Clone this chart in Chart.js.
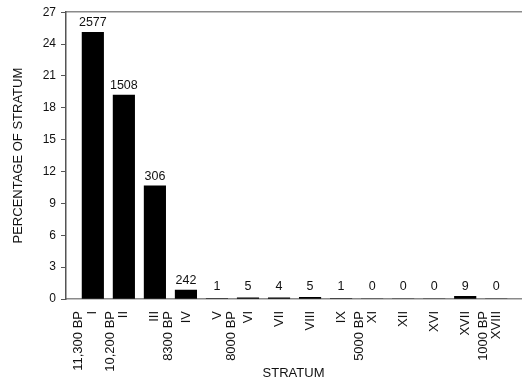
<!DOCTYPE html>
<html>
<head>
<meta charset="utf-8">
<script src="https://cdn.jsdelivr.net/npm/chart.js@4.4.1/dist/chart.umd.min.js"></script>
<style>
  html, body { margin: 0; padding: 0; background: #fff; }
  #wrap { width: 524px; height: 381px; }
</style>
</head>
<body>
<div id="wrap"><canvas id="chart"></canvas></div>
<script>
  // strata, percentage of stratum, and the counts printed above the bars
  var strata = ["I", "II", "III", "IV", "V", "VI", "VII", "VIII", "IX", "XI", "XII", "XVI", "XVII", "XVIII"];
  var percents = [25.1, 19.2, 10.65, 0.85, 0.05, 0.1, 0.1, 0.15, 0.05, 0, 0, 0, 0.25, 0];
  var counts = [2577, 1508, 306, 242, 1, 5, 4, 5, 1, 0, 0, 0, 9, 0];
  // radiocarbon dates, placed between strata (position on the stratum axis)
  var dates = ["11,300 BP", "10,200 BP", "8300 BP", "8000 BP", "5000 BP", "1000 BP"];
  var datePos = [-0.48, 0.58, 2.45, 4.48, 8.6, 12.6];
  var yTicks = [0, 3, 6, 9, 12, 15, 18, 21, 24, 27];

  var FONT = "'Liberation Sans', Arial, Helvetica, sans-serif";

  var points = [];
  for (var i = 0; i < strata.length; i++) {
    points.push({x: i, y: percents[i]});
  }

  // every label on the bottom axis: strata at integer positions, dates in between
  var xLabels = {};
  for (var i = 0; i < strata.length; i++) xLabels[i] = strata[i];
  for (var j = 0; j < dates.length; j++) xLabels[datePos[j]] = dates[j];

  var countLabels = {
    id: "countLabels",
    afterDatasetsDraw: function(chart) {
      var ctx = chart.ctx;
      var bars = chart.getDatasetMeta(0).data;
      ctx.save();
      ctx.font = "12.5px " + FONT;
      ctx.fillStyle = "#111";
      ctx.textAlign = "center";
      ctx.textBaseline = "alphabetic";
      for (var i = 0; i < bars.length; i++) {
        var y = Math.min(bars[i].y, 296) - 6;
        ctx.fillText(String(counts[i]), bars[i].x, y);
      }
      ctx.restore();
    }
  };

  new Chart(document.getElementById("chart"), {
    type: "bar",
    data: {
      datasets: [{
        data: points,
        backgroundColor: "#000",
        borderWidth: 0,
        barThickness: 21.5
      }]
    },
    options: {
      responsive: true,
      maintainAspectRatio: false,
      animation: false,
      layout: { padding: { top: 9, right: 0, left: 0, bottom: 0 } },
      plugins: { legend: { display: false }, tooltip: { enabled: false } },
      scales: {
        x: {
          type: "linear",
          position: "bottom",
          min: -0.865,
          max: 13.8,
          offset: false,
          afterBuildTicks: function(scale) {
            var vals = Object.keys(xLabels).map(Number).sort(function(a, b) { return a - b; });
            scale.ticks = vals.map(function(v) { return {value: v}; });
          },
          afterFit: function(scale) { scale.height = 82; },
          ticks: {
            autoSkip: false,
            minRotation: 90,
            maxRotation: 90,
            padding: 12,
            color: "#111",
            font: { family: FONT, size: 13 },
            callback: function(value) { return xLabels[value]; }
          },
          grid: { display: false, drawTicks: false },
          border: { display: true, color: "#8a8a8a", width: 1.5 },
          title: {
            display: true,
            text: "STRATUM",
            color: "#111",
            font: { family: FONT, size: 13 },
            padding: { top: 0, bottom: 0 }
          }
        },
        xTop: {
          type: "linear",
          position: "top",
          min: -0.865,
          max: 13.8,
          ticks: { display: false },
          grid: { display: false, drawTicks: false },
          border: { display: true, color: "#8a8a8a", width: 1.5 },
          afterFit: function(scale) { scale.height = 0; }
        },
        y: {
          min: 0,
          max: 27,
          afterBuildTicks: function(scale) {
            scale.ticks = yTicks.map(function(v) { return {value: v}; });
          },
          afterFit: function(scale) { scale.width = 66; },
          ticks: {
            padding: 5,
            color: "#111",
            font: { family: FONT, size: 12 }
          },
          grid: { drawOnChartArea: false, drawTicks: true, tickLength: 5, color: "#555" },
          border: { display: true, color: "#555", width: 1.5 },
          title: {
            display: true,
            text: "PERCENTAGE OF STRATUM",
            color: "#111",
            font: { family: FONT, size: 13 },
            padding: { top: 11, bottom: 0 }
          }
        }
      }
    },
    plugins: [countLabels]
  });
</script>
</body>
</html>
